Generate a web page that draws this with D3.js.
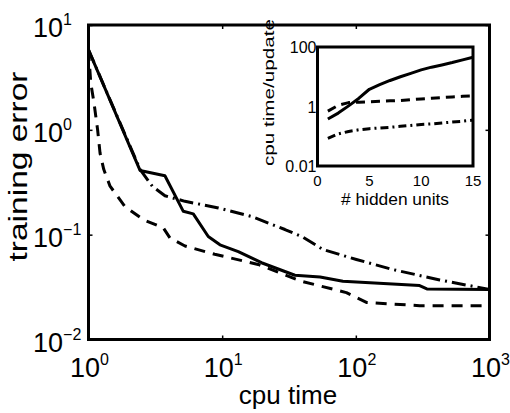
<!DOCTYPE html>
<html>
<head>
<meta charset="utf-8">
<script src="https://cdn.jsdelivr.net/npm/d3@7"></script>
<style>
  html, body { margin: 0; padding: 0; background: #fff; }
  svg { display: block; font-family: "Liberation Sans", Arial, sans-serif; }
</style>
</head>
<body>
<svg id="chart" width="510" height="413"></svg>
<script>
// ====== Data (main: training error vs cpu time) ======
const solidTime = [1, 2.43, 3.73, 5.12, 6.08, 7.87, 9.63, 13.2, 19.7, 35, 54, 80, 300, 340, 1000];
const solidErr  = [5.8, 0.41, 0.365, 0.167, 0.158, 0.096, 0.080, 0.069, 0.054, 0.041, 0.0395, 0.036, 0.0327, 0.0304, 0.030];

const dashTime = [1, 1.04, 1.1, 1.17, 1.22, 1.3, 1.45, 1.87, 2.57, 3.63, 4.07, 5.27, 8.8, 18.6, 39, 85, 120, 300, 1000];
const dashErr  = [5.8, 2.8, 1.8, 1.0, 0.6, 0.42, 0.29, 0.186, 0.139, 0.116, 0.093, 0.078, 0.065, 0.052, 0.036, 0.028, 0.0226, 0.021, 0.021];

const dotTime = [1, 2.43, 3.0, 3.73, 5.27, 9.37, 16.6, 29.5, 40, 57, 101, 190, 424, 1000];
const dotErr  = [5.8, 0.42, 0.29, 0.235, 0.208, 0.18, 0.149, 0.112, 0.095, 0.072, 0.058, 0.0464, 0.037, 0.030];

const xTickExp = [0, 1, 2, 3];
const yTickExp = [-2, -1, 0, 1];

// ====== Data (inset: cpu time/update vs # hidden units) ======
const hiddenUnits = [1, 2, 3, 4, 5, 6, 7, 8, 9, 10, 11, 12, 13, 14, 15];
const solidCost = [0.38, 0.6, 1.05, 1.9, 3.8, 5.4, 7.5, 10, 13, 17, 21, 25, 30, 37, 45];
const dashCost  = [0.7, 1.1, 1.35, 1.4, 1.45, 1.5, 1.55, 1.6, 1.7, 1.8, 1.9, 2.0, 2.1, 2.2, 2.25];
const dotCost   = [0.085, 0.12, 0.145, 0.165, 0.18, 0.19, 0.2, 0.215, 0.23, 0.25, 0.26, 0.28, 0.3, 0.32, 0.35];

const insetXTicks = [0, 5, 10, 15];
const insetYTicks = [0.01, 1, 100];
const insetYLabels = ["0.01", "1", "100"];

// ====== Setup ======
const svg = d3.select("#chart");

const x = d3.scaleLog().domain([1, 1000]).range([88.5, 489.5]);
const y = d3.scaleLog().domain([0.01, 10]).range([339.5, 25]);

const ix = d3.scaleLinear().domain([0, 15]).range([317.5, 473]);
const iy = d3.scaleLog().domain([0.01, 100]).range([166, 47]);

const styles = {
  solid: null,
  dash: "11,8",
  dot: "14,5,2,5"
};
const insetStyles = {
  solid: null,
  dash: "9,6",
  dot: "8,4,2,4"
};

svg.append("clipPath").attr("id", "mainClip")
  .append("rect")
  .attr("x", x.range()[0]).attr("y", y.range()[1])
  .attr("width", x.range()[1] - x.range()[0])
  .attr("height", y.range()[0] - y.range()[1]);

// ====== Main curves ======
const mainLine = d3.line().x(d => x(d[0])).y(d => y(d[1]));
const mainSeries = [
  { t: solidTime, v: solidErr, dash: styles.solid },
  { t: dashTime, v: dashErr, dash: styles.dash },
  { t: dotTime, v: dotErr, dash: styles.dot }
];

const gMain = svg.append("g").attr("clip-path", "url(#mainClip)");
mainSeries.forEach(s => {
  gMain.append("path")
    .datum(d3.zip(s.t, s.v))
    .attr("d", mainLine)
    .attr("fill", "none")
    .attr("stroke", "#000")
    .attr("stroke-width", 3)
    .attr("stroke-linejoin", "round")
    .attr("stroke-dasharray", s.dash);
});

// ticks (inward, matlab-ish)
const xTickVals = xTickExp.map(e => Math.pow(10, e));
const yTickVals = yTickExp.map(e => Math.pow(10, e));

svg.append("g").attr("transform", `translate(0,${y.range()[0]})`)
  .call(d3.axisBottom(x).tickValues(xTickVals).tickSize(-4).tickFormat(""))
  .call(g => g.select(".domain").remove());
svg.append("g").attr("transform", `translate(0,${y.range()[1]})`)
  .call(d3.axisTop(x).tickValues(xTickVals).tickSize(-4).tickFormat(""))
  .call(g => g.select(".domain").remove());
svg.append("g").attr("transform", `translate(${x.range()[0]},0)`)
  .call(d3.axisLeft(y).tickValues(yTickVals).tickSize(-4).tickFormat(""))
  .call(g => g.select(".domain").remove());
svg.append("g").attr("transform", `translate(${x.range()[1]},0)`)
  .call(d3.axisRight(y).tickValues(yTickVals).tickSize(-4).tickFormat(""))
  .call(g => g.select(".domain").remove());
svg.selectAll(".tick line").attr("stroke", "#000").attr("stroke-width", 1.5);

// frame
svg.append("rect")
  .attr("x", x.range()[0]).attr("y", y.range()[1])
  .attr("width", x.range()[1] - x.range()[0])
  .attr("height", y.range()[0] - y.range()[1])
  .attr("fill", "none").attr("stroke", "#000").attr("stroke-width", 3);

// tick labels with superscripts
function powLabel(sel, exp) {
  sel.append("tspan").attr("font-size", 27).text("10");
  sel.append("tspan").attr("font-size", 16).attr("dy", -12)
    .text(exp < 0 ? "\u2212" + (-exp) : String(exp));
}

xTickExp.forEach(e => {
  svg.append("text")
    .attr("x", x(Math.pow(10, e)) + 1)
    .attr("y", 377)
    .attr("text-anchor", "middle")
    .call(powLabel, e);
});

yTickExp.forEach(e => {
  svg.append("text")
    .attr("x", 33)
    .attr("y", y(Math.pow(10, e)) + 12)
    .attr("text-anchor", "start")
    .call(powLabel, e);
});

// axis titles
svg.append("text")
  .attr("x", 288).attr("y", 404)
  .attr("text-anchor", "middle")
  .attr("font-size", 26)
  .text("cpu time");

svg.append("text")
  .attr("transform", "translate(27,166.5) rotate(-90)")
  .attr("text-anchor", "middle")
  .attr("font-size", 26)
  .attr("textLength", 190)
  .attr("lengthAdjust", "spacingAndGlyphs")
  .text("training error");

// ====== Inset ======
const gIn = svg.append("g");

gIn.append("rect")
  .attr("x", ix.range()[0]).attr("y", iy.range()[1])
  .attr("width", ix.range()[1] - ix.range()[0])
  .attr("height", iy.range()[0] - iy.range()[1])
  .attr("fill", "#fff");

const insetLine = d3.line().x(d => ix(d[0])).y(d => iy(d[1]));
[
  { v: solidCost, dash: insetStyles.solid },
  { v: dashCost, dash: insetStyles.dash },
  { v: dotCost, dash: insetStyles.dot }
].forEach(s => {
  gIn.append("path")
    .datum(d3.zip(hiddenUnits, s.v))
    .attr("d", insetLine)
    .attr("fill", "none")
    .attr("stroke", "#000")
    .attr("stroke-width", 3)
    .attr("stroke-linejoin", "round")
    .attr("stroke-dasharray", s.dash);
});

gIn.append("rect")
  .attr("x", ix.range()[0]).attr("y", iy.range()[1])
  .attr("width", ix.range()[1] - ix.range()[0])
  .attr("height", iy.range()[0] - iy.range()[1])
  .attr("fill", "none").attr("stroke", "#000").attr("stroke-width", 3);

insetXTicks.forEach(t => {
  gIn.append("text")
    .attr("x", ix(t)).attr("y", 186)
    .attr("text-anchor", "middle")
    .attr("font-size", 15)
    .text(t);
});

insetYTicks.forEach((t, i) => {
  gIn.append("text")
    .attr("x", ix.range()[0] - 1).attr("y", iy(t) + 6)
    .attr("text-anchor", "end")
    .attr("font-size", 16)
    .text(insetYLabels[i]);
});

gIn.append("text")
  .attr("x", 395).attr("y", 205)
  .attr("text-anchor", "middle")
  .attr("font-size", 16)
  .attr("textLength", 108)
  .attr("lengthAdjust", "spacingAndGlyphs")
  .text("# hidden units");

gIn.append("text")
  .attr("transform", "translate(274,92.5) rotate(-90)")
  .attr("text-anchor", "middle")
  .attr("font-size", 14)
  .attr("textLength", 147)
  .attr("lengthAdjust", "spacingAndGlyphs")
  .text("cpu time/update");
</script>
</body>
</html>
